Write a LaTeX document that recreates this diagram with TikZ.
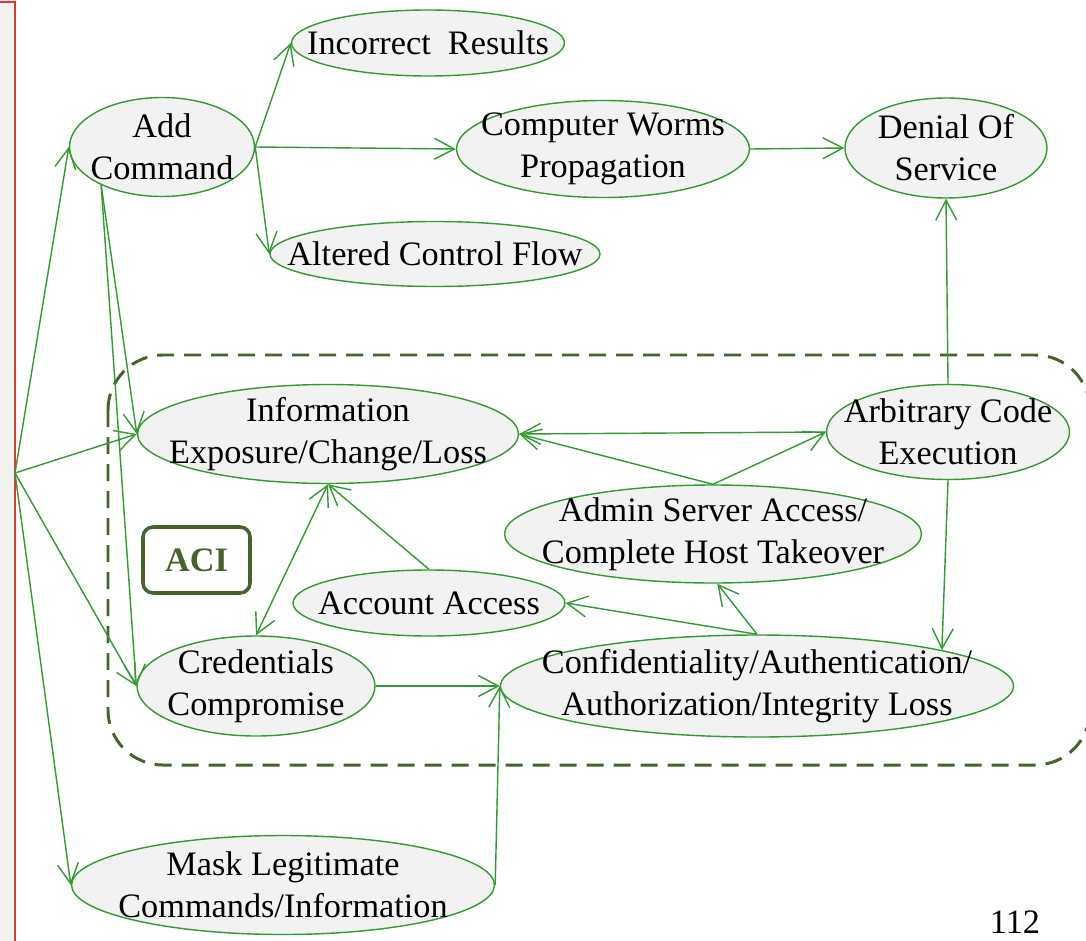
\documentclass[tikz,border=0pt]{standalone}
\usepackage{fontspec}
\setmainfont{Liberation Serif}
\usetikzlibrary{shapes.geometric,arrows.meta}
\definecolor{nodegreen}{RGB}{48,155,48}
\definecolor{nodegray}{RGB}{242,242,242}
\definecolor{olivegreen}{RGB}{72,98,44}
\definecolor{stripred}{RGB}{222,55,60}

\begin{document}
\begin{tikzpicture}[auto, >={Straight Barb[length=4mm,width=4.2mm]}]
    \useasboundingbox (0,0) rectangle (21.72,-18.8);
    \fill[nodegray] (-0.1,0.1) rectangle (0.3,-19);
    \draw[stripred, line width=1pt] (-0.1,-0.04) -- (0.3,-0.04) -- (0.3,-19);
    \draw[olivegreen, line width=1.7pt, dash pattern=on 0.34cm off 0.2cm, rounded corners=1.1cm] (2.16,-7.1) rectangle (21.8,-15.3);
    \begin{scope}[every node/.style={ellipse, draw=nodegreen, fill=nodegray, line width=0.8pt, inner xsep=-1.2cm, inner ysep=-0.4cm, align=center, font=\fontsize{19.5}{24}\selectfont}]
        \node (AC) [minimum width=3.7cm, minimum height=1.98cm] at (3.24,-2.94) {Add\\Command};
        \node (IR) [minimum width=5.46cm, minimum height=1.32cm] at (8.56,-0.86) {Incorrect\ \ Results};
        \node (CW) [minimum width=5.86cm, minimum height=1.94cm] at (12.06,-2.98) {Computer Worms\\Propagation};
        \node (AF) [minimum width=6.6cm, minimum height=1.3cm] at (8.7,-5.08) {Altered Control Flow};
        \node (DS) [minimum width=4.04cm, minimum height=2cm] at (18.92,-2.96) {Denial Of\\Service};
        \node (IE) [minimum width=7.62cm, minimum height=1.98cm] at (6.56,-8.68) {Information\\Exposure/Change/Loss};
        \node (AE) [minimum width=4.86cm, minimum height=1.9cm] at (18.96,-8.64) {Arbitrary Code\\Execution};
        \node (AS) [minimum width=8.34cm, minimum height=1.96cm] at (14.26,-10.68) {Admin Server Access/\\Complete Host Takeover};
        \node (AA) [minimum width=5.44cm, minimum height=1.32cm] at (8.58,-12.06) {Account Access};
        \node (CC) [minimum width=4.76cm, minimum height=2cm] at (5.12,-13.72) {Credentials\\Compromise};
        \node (CA) [minimum width=10.26cm, minimum height=2.04cm] at (15.14,-13.72) {Confidentiality/Authentication/\\Authorization/Integrity Loss};
        \node (ML) [minimum width=8.46cm, minimum height=1.98cm] at (5.66,-17.7) {Mask Legitimate\\Commands/Information};
    \end{scope}
    \node (ACI) [rounded corners=0.2cm, draw=olivegreen, line width=2pt, minimum width=2.14cm, minimum height=1.32cm, text=olivegreen, font=\fontsize{19.5}{24}\selectfont\bfseries] at (3.93,-11.2) {ACI};
    \coordinate (S) at (0.3,-9.46);
    \begin{scope}[every edge/.style={draw=nodegreen, line width=0.8pt}]
        \draw (S) edge [->] (AC.west);
        \draw (S) edge [->] (IE.west);
        \draw (S) edge [->] (CC.west);
        \draw (S) edge [->] (ML.west);
        \draw (AC.212) edge [->] (IE.west);
        \draw (AC.212) edge [->] (CC.west);
        \draw (AC.east) edge [->] (IR.west);
        \draw (AC.east) edge [->] (CW.west);
        \draw (AC.east) edge [->] (AF.west);
        \draw (CW.east) edge [->] (DS.west);
        \draw (AE.north) edge [->] (DS.south);
        \draw (AE.west) edge [->] (IE.east);
        \draw (AS.north) edge [->] (AE.west);
        \draw (AS.north) edge [->] (IE.east);
        \draw (AE.south) edge [->] (CA.11);
        \draw (CA.north) edge [->] (AS.-85);
        \draw (CA.north) edge [->] (AA.east);
        \draw (AA.north) edge [->] (IE.south);
        \draw (IE.south) edge [<->] (CC.north);
        \draw (CC.east) edge [->] (CA.west);
        \draw (ML.east) edge [->] (CA.west);
    \end{scope}
    \node (P) [anchor=north, inner sep=0pt, font=\fontsize{19.5}{24}\selectfont] at (20.3,-18.2) {112};
\end{tikzpicture}
\end{document}
